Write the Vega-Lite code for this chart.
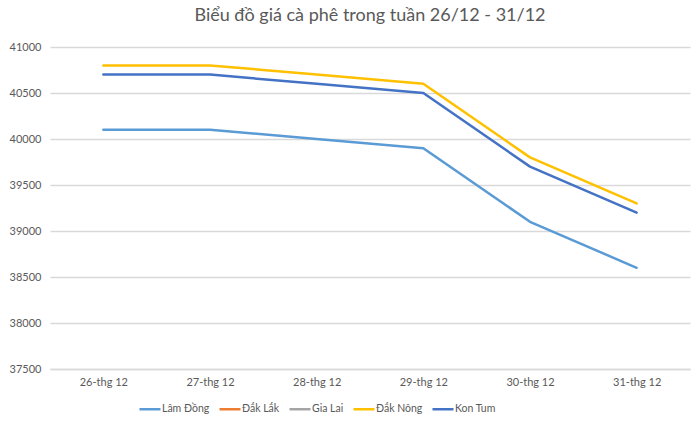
{
  "$schema": "https://vega.github.io/schema/vega-lite/v6.json",
  "autosize": "none",
  "width": 640,
  "height": 322,
  "padding": {"left": 50, "top": 47, "right": 10, "bottom": 60},
  "background": "white",
  "title": {
    "text": "Biểu đồ giá cà phê trong tuần 26/12 - 31/12",
    "font": "Lato",
    "fontSize": 18,
    "fontWeight": "normal",
    "color": "#595959",
    "anchor": "middle",
    "offset": 16
  },
  "config": {
    "view": {"stroke": null},
    "font": "Lato"
  },
  "data": {
    "values": [
      {"ngay": "26-thg 12", "tinh": "Lâm Đồng", "gia": 40100},
      {"ngay": "27-thg 12", "tinh": "Lâm Đồng", "gia": 40100},
      {"ngay": "28-thg 12", "tinh": "Lâm Đồng", "gia": 40000},
      {"ngay": "29-thg 12", "tinh": "Lâm Đồng", "gia": 39900},
      {"ngay": "30-thg 12", "tinh": "Lâm Đồng", "gia": 39100},
      {"ngay": "31-thg 12", "tinh": "Lâm Đồng", "gia": 38600},
      {"ngay": "26-thg 12", "tinh": "Đắk Nông", "gia": 40800},
      {"ngay": "27-thg 12", "tinh": "Đắk Nông", "gia": 40800},
      {"ngay": "28-thg 12", "tinh": "Đắk Nông", "gia": 40700},
      {"ngay": "29-thg 12", "tinh": "Đắk Nông", "gia": 40600},
      {"ngay": "30-thg 12", "tinh": "Đắk Nông", "gia": 39800},
      {"ngay": "31-thg 12", "tinh": "Đắk Nông", "gia": 39300},
      {"ngay": "26-thg 12", "tinh": "Kon Tum", "gia": 40700},
      {"ngay": "27-thg 12", "tinh": "Kon Tum", "gia": 40700},
      {"ngay": "28-thg 12", "tinh": "Kon Tum", "gia": 40600},
      {"ngay": "29-thg 12", "tinh": "Kon Tum", "gia": 40500},
      {"ngay": "30-thg 12", "tinh": "Kon Tum", "gia": 39700},
      {"ngay": "31-thg 12", "tinh": "Kon Tum", "gia": 39200}
    ]
  },
  "mark": {"type": "line", "strokeWidth": 2.5, "strokeCap": "round", "strokeJoin": "round"},
  "encoding": {
    "x": {
      "field": "ngay",
      "type": "ordinal",
      "sort": null,
      "scale": {"type": "point", "padding": 0.5},
      "axis": {
        "title": null,
        "labelAngle": 0,
        "labelFont": "Lato",
        "labelFontSize": 11,
        "labelColor": "#595959",
        "labelPadding": 7,
        "ticks": false,
        "domain": true,
        "domainColor": "#d9d9d9",
        "domainWidth": 1.5,
        "grid": false
      }
    },
    "y": {
      "field": "gia",
      "type": "quantitative",
      "scale": {"domain": [37500, 41000], "nice": false, "zero": false},
      "axis": {
        "title": null,
        "values": [37500, 38000, 38500, 39000, 39500, 40000, 40500, 41000],
        "format": "d",
        "labelFont": "Lato",
        "labelFontSize": 11,
        "labelColor": "#595959",
        "labelPadding": 9,
        "ticks": false,
        "domain": false,
        "grid": true,
        "gridColor": "#d9d9d9",
        "gridWidth": 1.5
      }
    },
    "color": {
      "field": "tinh",
      "type": "nominal",
      "scale": {
        "domain": ["Lâm Đồng", "Đắk Lắk", "Gia Lai", "Đắk Nông", "Kon Tum"],
        "range": ["#5B9BD5", "#ED7D31", "#A5A5A5", "#FFC000", "#4472C4"]
      },
      "legend": {
        "title": null,
        "orient": "none",
        "legendX": 88,
        "legendY": 350,
        "direction": "horizontal",
        "columns": 5,
        "symbolType": "stroke",
        "symbolSize": 441,
        "symbolStrokeWidth": 2.5,
        "labelFont": "Lato",
        "labelFontSize": 10.5,
        "labelColor": "#595959",
        "labelOffset": 0,
        "columnPadding": 4
      }
    }
  }
}
